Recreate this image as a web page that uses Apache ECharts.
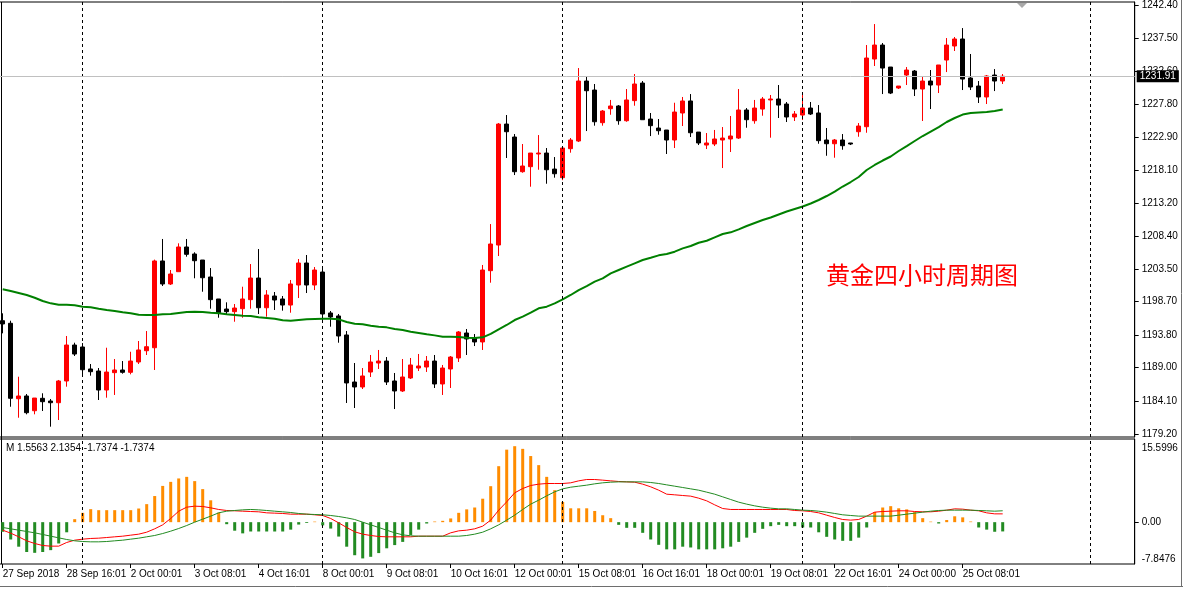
<!DOCTYPE html>
<html>
<head>
<meta charset="utf-8">
<title>黄金四小时周期图</title>
<script src="https://cdn.jsdelivr.net/npm/echarts@6.0.0/dist/echarts.min.js"></script>
<style>
  html, body { margin: 0; padding: 0; background: #fff; }
  #chart { width: 1183px; height: 589px; }
</style>
</head>
<body>
<div id="chart"></div>
<script>
// 4H gold bars
const candleOpen = [
  1195.90, 1195.52, 1184.41, 1184.81, 1182.64, 1184.47, 1184.07, 1183.82, 1187.02, 1192.32,
  1192.03, 1188.79, 1188.49, 1185.69, 1188.25, 1188.64, 1188.30, 1189.82, 1191.48, 1191.92,
  1204.70, 1201.31, 1203.12, 1206.76, 1205.73, 1204.84, 1202.34, 1199.10, 1197.62, 1197.23,
  1197.67, 1199.00, 1202.19, 1197.81, 1199.54, 1199.10, 1198.21, 1201.16, 1204.40, 1201.16,
  1203.07, 1197.04, 1196.60, 1193.80, 1186.87, 1186.14, 1188.34, 1189.67, 1189.96, 1187.02,
  1185.55, 1187.46, 1188.93, 1189.08, 1189.96, 1186.58, 1188.79, 1190.41, 1194.09, 1193.36,
  1192.77, 1203.27, 1207.05, 1224.87, 1222.96, 1217.85, 1218.59, 1220.46, 1220.60, 1218.24,
  1216.97, 1221.24, 1222.37, 1231.21, 1229.88, 1225.07, 1227.13, 1227.53, 1225.36, 1228.32,
  1230.91, 1225.61, 1224.28, 1223.99, 1222.52, 1226.50, 1228.27, 1223.69, 1221.78, 1221.93,
  1222.52, 1222.67, 1222.81, 1226.94, 1225.36, 1227.08, 1228.42, 1228.56, 1227.82, 1225.91,
  1226.20, 1227.23, 1226.50, 1222.52, 1221.97, 1222.52, 1222.08, 1223.74, 1224.48, 1234.45,
  1236.51, 1233.27, 1230.18, 1232.09, 1232.68, 1230.03, 1231.21, 1230.62, 1234.30, 1236.37,
  1237.40, 1231.65, 1230.47, 1228.86, 1232.09, 1231.21
];
const candleClose = [
  1195.42, 1184.47, 1184.81, 1182.35, 1184.51, 1183.97, 1183.82, 1187.02, 1192.32, 1190.99,
  1188.68, 1188.39, 1185.69, 1188.34, 1188.64, 1188.30, 1189.96, 1191.59, 1192.07, 1204.70,
  1201.31, 1202.78, 1206.76, 1205.68, 1204.74, 1202.23, 1199.00, 1197.08, 1197.23, 1197.77,
  1199.10, 1202.19, 1197.81, 1199.69, 1198.95, 1198.21, 1201.31, 1204.40, 1201.16, 1203.37,
  1196.89, 1196.45, 1193.65, 1186.73, 1186.14, 1187.76, 1189.82, 1189.96, 1186.87, 1185.55,
  1187.61, 1189.38, 1189.23, 1189.96, 1186.58, 1188.93, 1190.55, 1194.24, 1193.21, 1192.77,
  1203.37, 1207.20, 1224.87, 1223.74, 1217.85, 1218.69, 1220.60, 1220.60, 1218.14, 1217.55,
  1221.34, 1222.52, 1231.21, 1229.78, 1225.21, 1226.79, 1227.53, 1225.36, 1228.42, 1230.77,
  1225.51, 1224.63, 1223.89, 1222.52, 1226.64, 1228.27, 1223.59, 1222.08, 1222.08, 1222.67,
  1222.81, 1223.11, 1226.94, 1225.51, 1227.23, 1228.56, 1228.56, 1227.67, 1225.91, 1226.35,
  1227.23, 1226.35, 1222.42, 1221.97, 1222.52, 1221.68, 1221.93, 1224.58, 1234.60, 1236.51,
  1233.12, 1229.44, 1230.47, 1232.83, 1230.03, 1231.21, 1230.62, 1233.57, 1236.51, 1237.40,
  1231.50, 1230.33, 1228.86, 1231.95, 1231.21, 1231.91
];
const candleLow = [
  1194.04, 1183.23, 1181.61, 1182.11, 1182.11, 1182.60, 1180.29, 1181.27, 1186.18, 1190.70,
  1187.90, 1187.80, 1184.22, 1184.56, 1184.96, 1188.10, 1188.00, 1189.52, 1190.85, 1188.64,
  1201.01, 1201.16, 1203.12, 1205.33, 1202.15, 1200.17, 1197.67, 1196.34, 1196.89, 1195.75,
  1196.34, 1197.67, 1196.89, 1196.49, 1197.48, 1197.38, 1197.08, 1199.24, 1199.98, 1200.42,
  1196.00, 1195.02, 1192.66, 1183.78, 1183.04, 1185.84, 1187.61, 1188.79, 1186.43, 1182.89,
  1185.40, 1187.31, 1188.49, 1188.35, 1185.99, 1184.96, 1185.99, 1189.82, 1190.85, 1192.17,
  1191.59, 1201.50, 1205.43, 1219.87, 1217.36, 1217.70, 1215.64, 1218.14, 1216.08, 1216.97,
  1216.60, 1220.65, 1222.22, 1223.84, 1224.63, 1224.63, 1226.24, 1224.77, 1225.21, 1227.57,
  1225.51, 1223.10, 1223.30, 1220.46, 1221.34, 1224.58, 1222.96, 1221.78, 1221.19, 1221.63,
  1218.39, 1220.75, 1222.67, 1224.33, 1224.92, 1226.10, 1222.86, 1225.76, 1225.17, 1225.32,
  1225.46, 1226.20, 1221.97, 1220.20, 1219.91, 1221.09, 1221.78, 1223.00, 1223.59, 1233.42,
  1229.29, 1229.29, 1230.03, 1230.62, 1229.00, 1225.32, 1227.08, 1229.44, 1232.53, 1235.63,
  1229.88, 1229.88, 1227.97, 1227.82, 1229.73, 1230.77
];
const candleHigh = [
  1196.99, 1195.90, 1187.65, 1185.10, 1184.51, 1185.21, 1184.37, 1187.17, 1193.65, 1192.66,
  1192.61, 1189.52, 1188.93, 1191.92, 1190.26, 1189.96, 1191.33, 1192.91, 1194.38, 1204.90,
  1207.94, 1203.37, 1207.30, 1207.94, 1205.98, 1204.84, 1203.66, 1199.10, 1198.61, 1198.36,
  1200.91, 1204.25, 1206.46, 1200.41, 1200.13, 1199.54, 1201.90, 1204.99, 1205.58, 1203.81,
  1203.96, 1197.33, 1196.89, 1194.38, 1189.67, 1188.93, 1190.85, 1191.59, 1190.55, 1188.20,
  1190.26, 1190.41, 1191.00, 1190.70, 1190.85, 1189.38, 1190.70, 1194.38, 1194.68, 1193.94,
  1204.11, 1210.14, 1225.02, 1226.20, 1223.40, 1221.93, 1220.60, 1223.25, 1221.34, 1220.01,
  1221.34, 1222.81, 1233.12, 1231.80, 1230.77, 1226.94, 1228.42, 1227.67, 1230.03, 1232.24,
  1231.21, 1226.50, 1225.61, 1223.99, 1228.01, 1228.86, 1229.29, 1223.69, 1223.55, 1224.00,
  1224.43, 1226.06, 1230.03, 1227.23, 1228.42, 1228.86, 1229.15, 1230.62, 1228.12, 1226.79,
  1229.44, 1228.12, 1227.67, 1224.29, 1222.67, 1223.40, 1222.08, 1225.02, 1236.51, 1239.60,
  1236.81, 1233.27, 1230.47, 1233.27, 1232.83, 1231.95, 1232.83, 1233.57, 1237.54, 1237.69,
  1239.01, 1235.19, 1231.21, 1232.09, 1232.97, 1232.24
];
// green moving average on the price panel
const maLine = [
  1200.53, 1200.27, 1199.98, 1199.69, 1199.29, 1198.80, 1198.46, 1198.26, 1198.26, 1198.17,
  1197.96, 1197.87, 1197.67, 1197.48, 1197.33, 1197.14, 1196.99, 1196.78, 1196.74, 1196.74,
  1196.84, 1196.89, 1197.04, 1197.18, 1197.23, 1197.18, 1197.08, 1196.99, 1196.84, 1196.74,
  1196.64, 1196.59, 1196.40, 1196.30, 1196.20, 1195.96, 1195.90, 1196.00, 1196.10, 1196.15,
  1196.20, 1196.20, 1196.10, 1195.71, 1195.46, 1195.37, 1195.17, 1195.02, 1194.92, 1194.68,
  1194.53, 1194.28, 1194.09, 1193.89, 1193.74, 1193.54, 1193.54, 1193.50, 1193.40, 1193.35,
  1193.45, 1193.95, 1194.63, 1195.27, 1196.00, 1196.50, 1197.08, 1197.73, 1197.97, 1198.46,
  1199.05, 1199.69, 1200.42, 1201.01, 1201.65, 1202.14, 1202.88, 1203.37, 1203.86, 1204.35,
  1204.84, 1205.18, 1205.53, 1205.73, 1206.07, 1206.56, 1206.90, 1207.39, 1207.68, 1208.18,
  1208.67, 1208.92, 1209.36, 1209.85, 1210.29, 1210.73, 1211.10, 1211.54, 1211.98, 1212.35,
  1212.72, 1213.17, 1213.68, 1214.27, 1214.93, 1215.67, 1216.33, 1217.07, 1218.10, 1218.84,
  1219.50, 1220.09, 1220.90, 1221.63, 1222.37, 1223.11, 1223.77, 1224.43, 1225.17, 1225.76,
  1226.27, 1226.49, 1226.57, 1226.64, 1226.79, 1227.01
];
// lower panel: histogram, red line, green line
const macdHist = [
  -1.8, -3.25, -4.6, -5.6, -5.75, -5.6, -5.25, -4.0, -1.9, 0.56,
  1.75, 2.44, 2.25, 2.25, 2.25, 2.25, 2.25, 2.56, 3.38, 4.9,
  6.8, 7.56, 8.2, 8.5, 7.7, 6.2, 4.1, 1.8, -0.38, -1.6,
  -2.1, -1.75, -1.75, -1.75, -1.75, -1.75, -1.4, -0.45, -0.15, 0.1,
  -0.6, -1.2, -2.7, -4.6, -6.2, -6.8, -6.5, -5.8, -4.9, -4.3,
  -3.7, -2.4, -1.4, -0.25, 0.12, 0.25, 0.7, 1.75, 2.4, 2.75,
  4.4, 6.75, 10.5, 13.6, 14.25, 13.75, 12.4, 10.7, 8.5, 6.0,
  3.8, 2.6, 2.6, 2.6, 2.1, 1.3, 0.75, -0.5, -1.06, -1.06,
  -2.0, -3.25, -4.25, -5.1, -5.1, -4.6, -4.75, -5.1, -5.1, -5.1,
  -4.9, -4.6, -3.7, -2.9, -2.0, -1.25, -0.75, -0.5, -0.75, -0.75,
  -1.0, -1.0, -1.9, -2.75, -3.25, -3.5, -3.5, -2.9, -1.0, 1.9,
  2.75, 3.0, 2.6, 2.4, 1.9, 0.75, 0.1, -0.25, 0.4, 1.1,
  0.9, 0.12, -1.0, -1.4, -1.8, -1.7374
];
const macdRed = [
  -1.50, -2.06, -2.75, -3.50, -4.00, -4.38, -4.50, -4.50, -3.81, -3.38,
  -3.19, -3.06, -3.00, -2.88, -2.75, -2.63, -2.44, -2.25, -1.88, -1.25,
  -0.50, 0.69, 2.06, 2.81, 3.00, 2.94, 2.69, 2.38, 2.19, 2.13,
  2.06, 2.00, 1.94, 1.75, 1.69, 1.63, 1.50, 1.50, 1.50, 1.38,
  1.25, 0.69, -0.13, -1.00, -1.81, -2.25, -2.50, -2.69, -2.75, -2.75,
  -2.75, -2.75, -2.63, -2.63, -2.63, -2.63, -2.00, -1.63, -1.50, -1.25,
  -0.75, 0.38, 2.25, 3.81, 5.50, 6.31, 6.88, 7.13, 7.25, 7.25,
  7.25, 7.38, 7.75, 8.00, 8.00, 7.88, 7.75, 7.63, 7.56, 7.50,
  7.13, 6.63, 6.00, 5.25, 5.13, 5.00, 4.88, 4.50, 4.00, 3.25,
  2.56, 2.38, 2.38, 2.38, 2.38, 2.38, 2.38, 2.38, 2.38, 2.19,
  2.13, 2.00, 1.75, 1.31, 0.88, 0.50, 0.38, 0.50, 1.13, 1.88,
  2.00, 2.06, 2.13, 2.13, 2.00, 1.94, 1.94, 2.06, 2.25, 2.50,
  2.44, 2.25, 2.13, 1.75, 1.56, 1.5563
];
const macdGreen = [
  -1.00, -1.25, -1.50, -1.75, -2.00, -2.31, -2.63, -2.94, -3.25, -3.50,
  -3.63, -3.69, -3.69, -3.63, -3.50, -3.38, -3.19, -3.00, -2.75, -2.50,
  -2.13, -1.69, -1.19, -0.63, 0.00, 0.56, 1.13, 1.75, 2.06, 2.19,
  2.31, 2.38, 2.31, 2.19, 2.06, 1.94, 1.81, 1.63, 1.50, 1.44,
  1.38, 1.25, 1.06, 0.81, 0.50, 0.00, -0.50, -1.00, -1.50, -2.00,
  -2.38, -2.56, -2.63, -2.63, -2.63, -2.63, -2.63, -2.63, -2.50, -2.25,
  -1.88, -1.25, -0.50, 0.38, 1.31, 2.38, 3.38, 4.13, 4.94, 5.69,
  6.25, 6.56, 6.75, 6.94, 7.19, 7.38, 7.50, 7.56, 7.56, 7.56,
  7.56, 7.44, 7.25, 7.00, 6.75, 6.50, 6.25, 6.00, 5.63, 5.25,
  4.75, 4.25, 3.75, 3.38, 3.06, 2.81, 2.63, 2.50, 2.50, 2.38,
  2.25, 2.19, 2.06, 1.88, 1.63, 1.38, 1.25, 1.13, 1.13, 1.13,
  1.13, 1.13, 1.31, 1.50, 1.69, 1.88, 2.06, 2.19, 2.25, 2.25,
  2.25, 2.25, 2.19, 2.13, 2.06, 2.1354
];
const timeLabels = [
  '27 Sep 2018', '28 Sep 16:01', '2 Oct 00:01', '3 Oct 08:01', '4 Oct 16:01', '8 Oct 00:01',
  '9 Oct 08:01', '10 Oct 16:01', '12 Oct 00:01', '15 Oct 08:01', '16 Oct 16:01', '18 Oct 00:01',
  '19 Oct 08:01', '22 Oct 16:01', '24 Oct 00:00', '25 Oct 08:01'
];
const priceTicks = [
  1179.20, 1184.10, 1189.00, 1193.80, 1198.70, 1203.50, 1208.40,
  1213.20, 1218.10, 1222.90, 1227.80, 1232.60, 1237.50, 1242.40
];
const weekStarts = [10, 40, 70, 100, 136];   // bar index of the dashed period separators
const priceRange = [1178.77, 1242.85];
const macdRange = [-7.8476, 15.5996];
const slotCount = 142;                        // bars + empty space on the right
const labelEvery = 8;

const FONT = "'Liberation Sans', Arial, sans-serif";

const categories = Array.from({ length: slotCount }, (_, i) =>
  i % labelEvery === 0 && timeLabels[i / labelEvery] ? timeLabels[i / labelEvery] : '')
const candles = candleOpen.map((o, i) => [o, candleClose[i], candleLow[i], candleHigh[i]])
const lastPrice = candleClose[candleClose.length - 1]

function separatorLine() {
  return {
    silent: true,
    symbol: 'none',
    label: { show: false },
    lineStyle: { color: '#000', width: 1, type: [3, 3] },
    data: weekStarts.map(i => ({ xAxis: i }))
  }
}

const chart = echarts.init(document.getElementById('chart'))
chart.setOption({
  animation: false,
  backgroundColor: '#fff',
  textStyle: { fontFamily: FONT },
  grid: [
    { left: -1.3, width: slotCount * 8, top: 2, height: 435, show: true, borderColor: '#000', borderWidth: 1, outerBoundsMode: 'none' },
    { left: -1.3, width: slotCount * 8, top: 439, height: 125, show: true, borderColor: '#000', borderWidth: 1, outerBoundsMode: 'none' }
  ],
  xAxis: [
    {
      type: 'category', gridIndex: 0, data: categories,
      axisLine: { show: false }, axisTick: { show: false }, axisLabel: { show: false }, splitLine: { show: false }
    },
    {
      type: 'category', gridIndex: 1, data: categories,
      axisLine: { show: false, onZero: false },
      axisTick: {
        show: true, alignWithLabel: true, length: 4, lineStyle: { color: '#000' },
        interval: i => categories[i] !== ''
      },
      axisLabel: { interval: labelEvery - 1, align: 'left', color: '#000', fontSize: 10, margin: 5, fontFamily: FONT },
      splitLine: { show: false }
    }
  ],
  yAxis: [
    {
      type: 'value', gridIndex: 0, position: 'right', min: priceRange[0], max: priceRange[1],
      splitLine: { show: false },
      axisLine: { show: true, lineStyle: { color: '#000' } },
      axisTick: { show: true, length: 4, customValues: priceTicks, lineStyle: { color: '#000' } },
      axisLabel: { customValues: priceTicks, formatter: v => v.toFixed(2), color: '#000', fontSize: 10, margin: 7, fontFamily: FONT }
    },
    {
      type: 'value', gridIndex: 1, position: 'right', min: macdRange[0], max: macdRange[1],
      splitLine: { show: false },
      axisLine: { show: true, lineStyle: { color: '#000' } },
      axisTick: { show: true, length: 4, customValues: [0], lineStyle: { color: '#000' } },
      axisLabel: {
        customValues: [macdRange[0], 0, macdRange[1]],
        formatter: v => (v === 0 ? '0.00' : v.toFixed(4)),
        verticalAlignMinLabel: 'bottom', verticalAlignMaxLabel: 'top',
        padding: [4, 0, 0, 0],
        color: '#000', fontSize: 10, margin: 7, fontFamily: FONT
      }
    }
  ],
  series: [
    {
      name: 'XAUUSD,H4',
      type: 'candlestick',
      xAxisIndex: 0, yAxisIndex: 0,
      data: candles,
      barWidth: 5,
      itemStyle: { color: '#ff0000', color0: '#000000', borderColor: '#ff0000', borderColor0: '#000000', borderWidth: 1 },
      markLine: {
        silent: true,
        symbol: 'none',
        z: 10,
        lineStyle: { color: '#c0c0c0', width: 1, type: 'solid' },
        label: {
          show: true, position: 'end', distance: 2,
          formatter: lastPrice.toFixed(2),
          backgroundColor: '#000', color: '#fff', padding: [1, 3, 1, 3],
          fontSize: 10, fontFamily: FONT
        },
        data: [{ yAxis: lastPrice }]
      }
    },
    {
      name: 'MA',
      type: 'line',
      xAxisIndex: 0, yAxisIndex: 0,
      data: maLine,
      showSymbol: false,
      lineStyle: { color: '#008000', width: 2 },
      markLine: separatorLine()
    },
    {
      name: 'hist',
      type: 'bar',
      xAxisIndex: 1, yAxisIndex: 1,
      data: macdHist,
      barWidth: 3,
      itemStyle: { color: p => (p.value >= 0 ? '#ff8c00' : '#228b22') }
    },
    {
      name: 'red',
      type: 'line',
      xAxisIndex: 1, yAxisIndex: 1,
      data: macdRed,
      showSymbol: false,
      lineStyle: { color: '#ff0000', width: 1 },
      markLine: separatorLine()
    },
    {
      name: 'green',
      type: 'line',
      xAxisIndex: 1, yAxisIndex: 1,
      data: macdGreen,
      showSymbol: false,
      lineStyle: { color: '#228b22', width: 1 }
    }
  ],
  graphic: [
    {
      type: 'text', left: 826, top: 263,
      style: { text: '黄金四小时周期图', fill: '#ff0000', font: "24px 'Noto Sans CJK SC', sans-serif" }
    },
    {
      type: 'text', left: 6, top: 443,
      style: {
        text: 'M ' + [macdRed, macdGreen, macdHist, macdHist].map(a => a[a.length - 1].toFixed(4)).join(' '),
        fill: '#000', font: '10px ' + FONT
      }
    },
    { type: 'polygon', shape: { points: [[1017, 3], [1027, 3], [1022, 8]] }, style: { fill: '#a8a8a8' } },
    { type: 'line', shape: { x1: 1.5, y1: 2, x2: 1.5, y2: 564 }, style: { stroke: '#000', lineWidth: 1 } },
    { type: 'line', shape: { x1: 0, y1: 586.5, x2: 1183, y2: 586.5 }, style: { stroke: '#6e6e6e', lineWidth: 1 } },
    { type: 'line', shape: { x1: 1181.5, y1: 0, x2: 1181.5, y2: 587 }, style: { stroke: '#6e6e6e', lineWidth: 1 } }
  ]
})

window.addEventListener('resize', () => chart.resize())
</script>
</body>
</html>
